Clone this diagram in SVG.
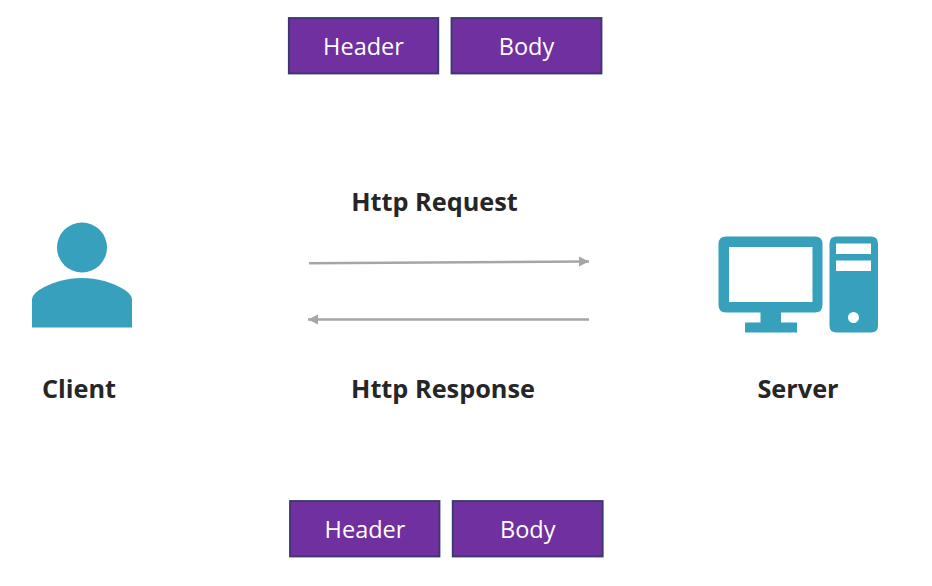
<svg xmlns="http://www.w3.org/2000/svg" width="932" height="586" viewBox="0 0 932 586">
<style>
.box{fill:#7030a0;stroke:#38386f;stroke-width:1.8}
.bt{font-family:"Open Sans",sans-serif;font-size:23.500px;fill:#fff;text-anchor:middle}
.lb{font-family:"Open Sans",sans-serif;font-size:25.300px;font-weight:700;fill:#262626;text-anchor:middle}
.ic{fill:#36a0bd}
.cn{stroke:#a6a6a6;stroke-width:2.400;fill:none;marker-end:url(#ah)}
</style>
<defs><marker id="ah" markerUnits="userSpaceOnUse" markerWidth="11" markerHeight="12" refX="10" refY="6" orient="auto"><path d="M0 1L10 6L0 11Z" fill="#a6a6a6"/></marker></defs>
<rect width="932" height="586" fill="#fff"/>
<g id="connectors">
<path class="cn" d="M309 263.300L589 261.500"/>
<path class="cn" d="M589 319.500H308"/>
</g>
<g id="req-header"><rect class="box" x="288.800" y="18" width="149.500" height="55.500"/><text class="bt" x="363.500" y="54.500">Header</text></g>
<g id="req-body"><rect class="box" x="451.500" y="18" width="150" height="55.500"/><text class="bt" x="526.500" y="54.500">Body</text></g>
<g id="res-header"><rect class="box" x="290" y="501" width="149.500" height="55.500"/><text class="bt" x="365" y="537.500">Header</text></g>
<g id="res-body"><rect class="box" x="452.700" y="501" width="150" height="55.500"/><text class="bt" x="527.700" y="537.500">Body</text></g>
<g id="http-request"><text class="lb" x="434.500" y="210.500">Http Request</text></g>
<g id="http-response"><text class="lb" x="443" y="398">Http Response</text></g>
<g id="client">
<circle class="ic" cx="82" cy="247.500" r="25"/>
<path class="ic" d="M32 327.500V300C32 296 35 293 39 290C52 282 67 278 82 278C97 278 112 282 125 290C129 293 132 296 132 300V327.500Z"/>
<text class="lb" x="79" y="398">Client</text>
</g>
<g id="server">
<path class="ic" fill-rule="evenodd" d="M726 236.500H815Q822.500 236.500 822.500 244V305Q822.500 312.500 815 312.500H781V322.500H797V332.500H745V322.500H760.500V312.500H726Q718.500 312.500 718.500 305V244Q718.500 236.500 726 236.500ZM729 247V302H812.500V247Z"/>
<path class="ic" fill-rule="evenodd" d="M836.500 236.500H871Q878 236.500 878 243.500V325.500Q878 332.500 871 332.500H836.500Q829.500 332.500 829.500 325.500V243.500Q829.500 236.500 836.500 236.500ZM836 243.500V254H871V243.500ZM836 260.500V271H871V260.500ZM853.500 312A5.500 5.500 0 1 0 853.500 323A5.500 5.500 0 1 0 853.500 312Z"/>
<text class="lb" x="798" y="398">Server</text>
</g>
</svg>
